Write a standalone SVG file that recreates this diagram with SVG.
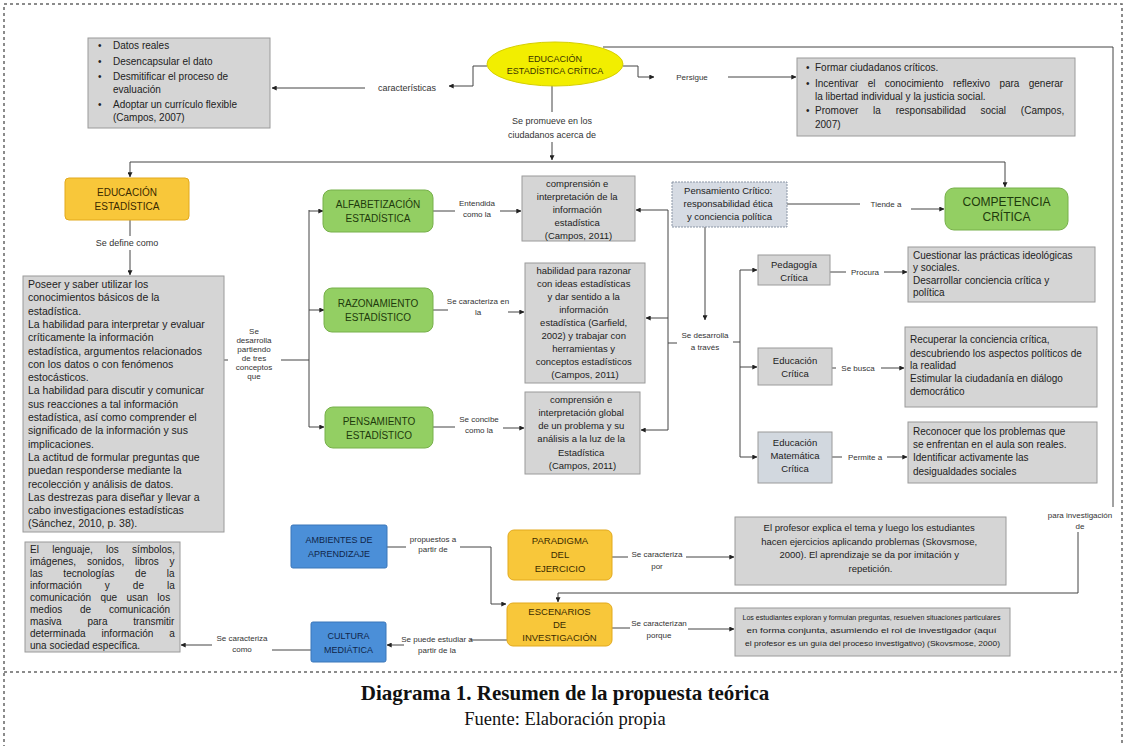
<svg xmlns="http://www.w3.org/2000/svg" width="1126" height="746" viewBox="0 0 1126 746">
<defs>
<marker id="a" viewBox="0 0 8 8" refX="7.5" refY="4" markerWidth="5" markerHeight="5" orient="auto" markerUnits="userSpaceOnUse"><path d="M0,0 L8,4 L0,8 z" fill="#222"/></marker>
<style>
.t{font-family:"Liberation Sans",Arial,sans-serif;font-size:9.5px;fill:#222}
.c{text-anchor:middle}
.l{font-family:"Liberation Sans",Arial,sans-serif;font-size:8px;fill:#333;text-anchor:middle}
.box{fill:#d5d5d5;stroke:#9a9a9a;stroke-width:1}
.pc{fill:#d6dbe3;stroke:#8a95a5;stroke-width:1;stroke-dasharray:2 1}
.green{fill:#93cf63;stroke:#77b04a;stroke-width:1}
.yellow{fill:#f8c73a;stroke:#e2a91c;stroke-width:1}
.blue{fill:#4b8fd8;stroke:#3a76b9;stroke-width:1}
.ell{fill:#f2ee00;stroke:#d6cf00;stroke-width:1}
.gt{font-family:"Liberation Sans",Arial,sans-serif;font-size:10px;fill:#1e3a0c;text-anchor:middle}
.yt{font-family:"Liberation Sans",Arial,sans-serif;font-size:9.5px;fill:#3a2a00;text-anchor:middle}
.bt{font-family:"Liberation Sans",Arial,sans-serif;font-size:9px;fill:#10264a;text-anchor:middle}
.conn{fill:none;stroke:#444;stroke-width:1}
.arr{fill:none;stroke:#444;stroke-width:1;marker-end:url(#a)}
.border{fill:none;stroke:#666;stroke-width:1.5;stroke-dasharray:3 3}
.cap{font-family:"Liberation Serif","Times New Roman",serif;fill:#111;text-anchor:middle}
</style>
</defs>
<rect width="1126" height="746" fill="#fff"/>
<rect class="border" x="4" y="4" width="1118" height="760"/>
<line class="border" x1="4" y1="672" x2="1122" y2="672"/>

<g id="connectors">
<path class="conn" d="M487,66 H473 V86 H462"/>
<path class="arr" d="M462,86 H449"/>
<path class="arr" d="M365,88 H272"/>
<path class="conn" d="M623,66 H638 V77 H644"/>
<path class="arr" d="M644,77 H654"/>
<path class="arr" d="M728,77 H796"/>
<path class="conn" d="M603,47 H1113 V507"/>
<path class="conn" d="M552,85 V112"/>
<path class="arr" d="M552,142 V160"/>
<path class="conn" d="M130,162 H1005"/>
<path class="arr" d="M130,162 V177"/>
<path class="arr" d="M1005,162 V187"/>
<path class="conn" d="M130,220 V236"/>
<path class="arr" d="M130,250 V275"/>
<path class="conn" d="M224,360 H228"/>
<path class="conn" d="M281,360 H309"/>
<path class="conn" d="M309,210 V427"/>
<path class="arr" d="M309,211 H323"/>
<path class="arr" d="M309,310 H324"/>
<path class="arr" d="M309,427 H324"/>
<path class="conn" d="M433,211 H455"/>
<path class="arr" d="M500,211 H521"/>
<path class="conn" d="M433,310 H448"/>
<path class="arr" d="M508,312 H524"/>
<path class="conn" d="M433,427 H455"/>
<path class="arr" d="M503,428 H524"/>
<path class="conn" d="M668,210 V430"/>
<path class="arr" d="M668,210 H636"/>
<path class="arr" d="M668,318 H646"/>
<path class="arr" d="M668,430 H641"/>
<path class="arr" d="M705,227 V320"/>
<path class="conn" d="M677,343 H668"/>
<path class="conn" d="M733,342 H740"/>
<path class="conn" d="M740,270 V457"/>
<path class="arr" d="M740,270 H757"/>
<path class="arr" d="M740,367 H757"/>
<path class="arr" d="M740,457 H757"/>
<path class="conn" d="M787,204 H860"/>
<path class="arr" d="M911,209 H944"/>
<path class="conn" d="M830,272 H846"/>
<path class="arr" d="M884,272 H907"/>
<path class="conn" d="M832,368 H836"/>
<path class="arr" d="M881,368 H904"/>
<path class="conn" d="M832,457 H842"/>
<path class="arr" d="M887,457 H907"/>
<path class="conn" d="M387,547 H406"/>
<path class="conn" d="M460,547 H491 V604"/>
<path class="arr" d="M491,604 H506"/>
<path class="conn" d="M612,557 H628"/>
<path class="arr" d="M686,557 H734"/>
<path class="conn" d="M612,628 H630"/>
<path class="arr" d="M688,629 H734"/>
<path class="conn" d="M1078,532 V593 H558"/>
<path class="arr" d="M558,593 V602"/>
<path class="conn" d="M507,640 H470"/>
<path class="arr" d="M404,645 H387"/>
<path class="conn" d="M311,650 H272"/>
<path class="arr" d="M212,645 H181"/>
</g>

<g id="labels">
<text class="l" x="407" y="91" style="font-size:9px">características</text>
<text class="l" x="692" y="80">Persigue</text>
<text class="l" x="552" y="124" style="font-size:9px">Se promueve en los</text>
<text class="l" x="552" y="138" style="font-size:9px">ciudadanos acerca de</text>
<text class="l" x="127" y="246" style="font-size:9px">Se define como</text>
<text class="l" x="254" y="334">Se</text>
<text class="l" x="254" y="343">desarrolla</text>
<text class="l" x="254" y="352">partiendo</text>
<text class="l" x="254" y="361">de tres</text>
<text class="l" x="254" y="370">conceptos</text>
<text class="l" x="254" y="379">que</text>
<text class="l" x="477" y="206">Entendida</text>
<text class="l" x="477" y="217">como la</text>
<text class="l" x="478" y="304">Se caracteriza en</text>
<text class="l" x="478" y="315">la</text>
<text class="l" x="479" y="422">Se concibe</text>
<text class="l" x="479" y="433">como la</text>
<text class="l" x="705" y="338">Se desarrolla</text>
<text class="l" x="705" y="350">a través</text>
<text class="l" x="886" y="207">Tiende a</text>
<text class="l" x="865" y="275">Procura</text>
<text class="l" x="858" y="371">Se busca</text>
<text class="l" x="865" y="460">Permite a</text>
<text class="l" x="1080" y="518">para investigación</text>
<text class="l" x="1080" y="529">de</text>
<text class="l" x="433" y="542">propuestos a</text>
<text class="l" x="433" y="552">partir de</text>
<text class="l" x="657" y="557">Se caracteriza</text>
<text class="l" x="657" y="569">por</text>
<text class="l" x="659" y="626">Se caracterizan</text>
<text class="l" x="659" y="638">porque</text>
<text class="l" x="437" y="642">Se puede estudiar a</text>
<text class="l" x="437" y="653">partir de la</text>
<text class="l" x="242" y="641">Se caracteriza</text>
<text class="l" x="242" y="652">como</text>
</g>

<g id="caracteristicas">
<rect class="box" x="88" y="38" width="182" height="90"/>
<text class="t" style="font-size:10px">
<tspan x="98" y="49">•</tspan><tspan x="113" y="49">Datos reales</tspan>
<tspan x="98" y="65">•</tspan><tspan x="113" y="65">Desencapsular el dato</tspan>
<tspan x="98" y="80">•</tspan><tspan x="113" y="80">Desmitificar el proceso de</tspan>
<tspan x="113" y="93">evaluación</tspan>
<tspan x="98" y="108">•</tspan><tspan x="113" y="108">Adoptar un currículo flexible</tspan>
<tspan x="113" y="121">(Campos, 2007)</tspan>
</text>
</g>

<g id="eec">
<ellipse class="ell" cx="555" cy="64" rx="68" ry="22"/>
<text class="t c" style="font-size:9px;fill:#3a3500"><tspan x="555" y="62">EDUCACIÓN</tspan><tspan x="555" y="74">ESTADÍSTICA CRÍTICA</tspan></text>
</g>

<g id="persigue">
<rect class="box" x="797" y="58" width="278" height="78"/>
<text class="t" style="font-size:10px">
<tspan x="806" y="71">•</tspan><tspan x="815" y="71">Formar ciudadanos críticos.</tspan>
<tspan x="806" y="87">•</tspan><tspan x="815" y="87" word-spacing="6.5">Incentivar el conocimiento reflexivo para generar</tspan>
<tspan x="815" y="100" word-spacing="0">la libertad individual y la justicia social.</tspan>
<tspan x="806" y="114">•</tspan><tspan x="815" y="114" word-spacing="12">Promover la responsabilidad social (Campos,</tspan>
<tspan x="815" y="128" word-spacing="0">2007)</tspan>
</text>
</g>

<g id="educacion-estadistica">
<rect class="yellow" x="65" y="178" width="124" height="42" rx="4"/>
<text class="yt" style="font-size:10px"><tspan x="127" y="196">EDUCACIÓN</tspan><tspan x="127" y="210">ESTADÍSTICA</tspan></text>
</g>

<g id="definicion">
<rect class="box" x="23" y="276" width="201" height="256"/>
<text class="t" style="font-size:10.5px">
<tspan x="28" y="288">Poseer y saber utilizar los</tspan>
<tspan x="28" y="301.3">conocimientos básicos de la</tspan>
<tspan x="28" y="314.6">estadística.</tspan>
<tspan x="28" y="327.9">La habilidad para interpretar y evaluar</tspan>
<tspan x="28" y="341.2">críticamente la información</tspan>
<tspan x="28" y="354.5">estadística, argumentos relacionados</tspan>
<tspan x="28" y="367.8">con los datos o con fenómenos</tspan>
<tspan x="28" y="381.1">estocásticos.</tspan>
<tspan x="28" y="394.4">La habilidad para discutir y comunicar</tspan>
<tspan x="28" y="407.7">sus reacciones a tal información</tspan>
<tspan x="28" y="421">estadística, así como comprender el</tspan>
<tspan x="28" y="434.3">significado de la información y sus</tspan>
<tspan x="28" y="447.6">implicaciones.</tspan>
<tspan x="28" y="460.9">La actitud de formular preguntas que</tspan>
<tspan x="28" y="474.2">puedan responderse mediante la</tspan>
<tspan x="28" y="487.5">recolección y análisis de datos.</tspan>
<tspan x="28" y="500.8">Las destrezas para diseñar y llevar a</tspan>
<tspan x="28" y="514.1">cabo investigaciones estadísticas</tspan>
<tspan x="28" y="527.4">(Sánchez, 2010, p. 38).</tspan>
</text>
</g>

<g id="alfabetizacion">
<rect class="green" x="323" y="190" width="110" height="42" rx="8"/>
<text class="gt"><tspan x="378" y="208">ALFABETIZACIÓN</tspan><tspan x="378" y="222">ESTADÍSTICA</tspan></text>
</g>
<g id="razonamiento">
<rect class="green" x="324" y="288" width="109" height="44" rx="8"/>
<text class="gt"><tspan x="378" y="307">RAZONAMIENTO</tspan><tspan x="378" y="321">ESTADÍSTICO</tspan></text>
</g>
<g id="pensamiento">
<rect class="green" x="325" y="407" width="108" height="41" rx="8"/>
<text class="gt"><tspan x="379" y="425">PENSAMIENTO</tspan><tspan x="379" y="439">ESTADÍSTICO</tspan></text>
</g>

<g id="def-alfabetizacion">
<rect class="box" x="522" y="176" width="113" height="65"/>
<text class="t c" style="font-size:9.5px">
<tspan x="578.5" y="187">comprensión e</tspan>
<tspan x="578.5" y="200">interpretación de la</tspan>
<tspan x="578.5" y="213">información</tspan>
<tspan x="578.5" y="226">estadística</tspan>
<tspan x="578.5" y="239">(Campos, 2011)</tspan>
</text>
</g>
<g id="def-razonamiento">
<rect class="box" x="525" y="263" width="120" height="120"/>
<text class="t c" style="font-size:9.5px">
<tspan x="585" y="274">habilidad para razonar</tspan>
<tspan x="585" y="287">con ideas estadísticas</tspan>
<tspan x="585" y="300">y dar sentido a la</tspan>
<tspan x="585" y="313">información</tspan>
<tspan x="585" y="326">estadística (Garfield,</tspan>
<tspan x="585" y="339">2002) y trabajar con</tspan>
<tspan x="585" y="352">herramientas y</tspan>
<tspan x="585" y="365">conceptos estadísticos</tspan>
<tspan x="585" y="378">(Campos, 2011)</tspan>
</text>
</g>
<g id="def-pensamiento">
<rect class="box" x="525" y="392" width="115" height="82"/>
<text class="t c" style="font-size:9.5px">
<tspan x="582.5" y="403">comprensión e</tspan>
<tspan x="582.5" y="416">interpretación global</tspan>
<tspan x="582.5" y="429">de un problema y su</tspan>
<tspan x="582.5" y="442">análisis a la luz de la</tspan>
<tspan x="582.5" y="456">Estadística</tspan>
<tspan x="582.5" y="469">(Campos, 2011)</tspan>
</text>
</g>

<g id="pensamiento-critico">
<rect class="pc" x="672" y="182" width="115" height="45"/>
<text class="t c" style="font-size:9.5px">
<tspan x="729.5" y="194">Pensamiento Crítico:</tspan>
<tspan x="729.5" y="207">responsabilidad ética</tspan>
<tspan x="729.5" y="220">y conciencia política</tspan>
</text>
</g>

<g id="competencia">
<rect class="green" x="945" y="188" width="123" height="42" rx="9"/>
<text class="gt" style="font-size:12px"><tspan x="1006.5" y="206">COMPETENCIA</tspan><tspan x="1006.5" y="221">CRÍTICA</tspan></text>
</g>

<g id="pedagogia">
<rect class="box" x="758" y="255" width="72" height="30"/>
<text class="t c" style="font-size:9.5px"><tspan x="794" y="268">Pedagogía</tspan><tspan x="794" y="281">Crítica</tspan></text>
</g>
<g id="educacion-critica">
<rect class="box" x="758" y="348" width="74" height="37"/>
<text class="t c" style="font-size:9.5px"><tspan x="795" y="364">Educación</tspan><tspan x="795" y="377">Crítica</tspan></text>
</g>
<g id="educacion-matematica">
<rect class="box" x="758" y="432" width="74" height="51" style="fill:#d2d8df"/>
<text class="t c" style="font-size:9.5px"><tspan x="795" y="446">Educación</tspan><tspan x="795" y="459">Matemática</tspan><tspan x="795" y="472">Crítica</tspan></text>
</g>

<g id="def-pedagogia">
<rect class="box" x="908" y="247" width="187" height="55"/>
<text class="t" style="font-size:10px">
<tspan x="913" y="259">Cuestionar las prácticas ideológicas</tspan>
<tspan x="913" y="271">y sociales.</tspan>
<tspan x="913" y="284">Desarrollar conciencia crítica y</tspan>
<tspan x="913" y="296">política</tspan>
</text>
</g>
<g id="def-educacion-critica">
<rect class="box" x="905" y="327" width="192" height="80"/>
<text class="t" style="font-size:10px">
<tspan x="910" y="343">Recuperar la conciencia crítica,</tspan>
<tspan x="910" y="357">descubriendo los aspectos políticos de</tspan>
<tspan x="910" y="369">la realidad</tspan>
<tspan x="910" y="382">Estimular la ciudadanía en diálogo</tspan>
<tspan x="910" y="395">democrático</tspan>
</text>
</g>
<g id="def-educacion-matematica">
<rect class="box" x="908" y="422" width="189" height="61"/>
<text class="t" style="font-size:10px">
<tspan x="913" y="435">Reconocer que los problemas que</tspan>
<tspan x="913" y="448">se enfrentan en el aula son reales.</tspan>
<tspan x="913" y="461">Identificar activamente las</tspan>
<tspan x="913" y="475">desigualdades sociales</tspan>
</text>
</g>

<g id="ambientes">
<rect class="blue" x="291" y="525" width="96" height="43" rx="2"/>
<text class="bt"><tspan x="339" y="543">AMBIENTES DE</tspan><tspan x="339" y="557">APRENDIZAJE</tspan></text>
</g>
<g id="paradigma">
<rect class="yellow" x="508" y="530" width="104" height="50" rx="6"/>
<text class="yt"><tspan x="560" y="544">PARADIGMA</tspan><tspan x="560" y="558">DEL</tspan><tspan x="560" y="572">EJERCICIO</tspan></text>
</g>
<g id="escenarios">
<rect class="yellow" x="507" y="603" width="105" height="43" rx="6"/>
<text class="yt"><tspan x="559.5" y="615">ESCENARIOS</tspan><tspan x="559.5" y="628">DE</tspan><tspan x="559.5" y="641">INVESTIGACIÓN</tspan></text>
</g>
<g id="cultura">
<rect class="blue" x="311" y="622" width="75" height="40" rx="2"/>
<text class="bt"><tspan x="348.5" y="639">CULTURA</tspan><tspan x="348.5" y="653">MEDIÁTICA</tspan></text>
</g>

<g id="def-paradigma">
<rect class="box" x="735" y="517" width="271" height="68"/>
<text class="t c" style="font-size:9.5px">
<tspan x="870.5" y="531">El profesor explica el tema y luego los estudiantes</tspan>
<tspan x="870.5" y="545">hacen ejercicios aplicando problemas (Skovsmose,</tspan>
<tspan x="870.5" y="558">2000). El aprendizaje se da por imitación y</tspan>
<tspan x="870.5" y="572">repetición.</tspan>
</text>
</g>
<g id="def-escenarios">
<rect class="box" x="735" y="608" width="275" height="48"/>
<text class="t c" style="font-size:7.5px">
<tspan x="872.5" y="620" textLength="258" lengthAdjust="spacingAndGlyphs">Los estudiantes exploran y formulan preguntas, resuelven situaciones particulares</tspan>
<tspan x="872.5" y="633" textLength="250" lengthAdjust="spacingAndGlyphs">en forma conjunta, asumiendo el rol de investigador (aquí</tspan>
<tspan x="872.5" y="646" textLength="255" lengthAdjust="spacingAndGlyphs">el profesor es un guía del proceso investigativo) (Skovsmose, 2000)</tspan>
</text>
</g>
<g id="def-cultura">
<rect class="box" x="25" y="542" width="155" height="110"/>
<text class="t" style="font-size:10px">
<tspan x="30" y="553" word-spacing="10.5">El lenguaje, los símbolos,</tspan>
<tspan x="30" y="565" word-spacing="8">imágenes, sonidos, libros y</tspan>
<tspan x="30" y="577" word-spacing="17.8">las tecnologías de la</tspan>
<tspan x="30" y="589" word-spacing="20.3">información y de la</tspan>
<tspan x="30" y="601" word-spacing="6.5">comunicación que usan los</tspan>
<tspan x="30" y="613" word-spacing="15">medios de comunicación</tspan>
<tspan x="30" y="625" word-spacing="23">masiva para transmitir</tspan>
<tspan x="30" y="637" word-spacing="13.2">determinada información a</tspan>
<tspan x="30" y="649" word-spacing="0">una sociedad específica.</tspan>
</text>
</g>

<g id="caption">
<text class="cap" x="565" y="700" style="font-size:21px;font-weight:bold">Diagrama 1. Resumen de la propuesta teórica</text>
<text class="cap" x="565" y="725" style="font-size:18.5px">Fuente: Elaboración propia</text>
</g>
</svg>
